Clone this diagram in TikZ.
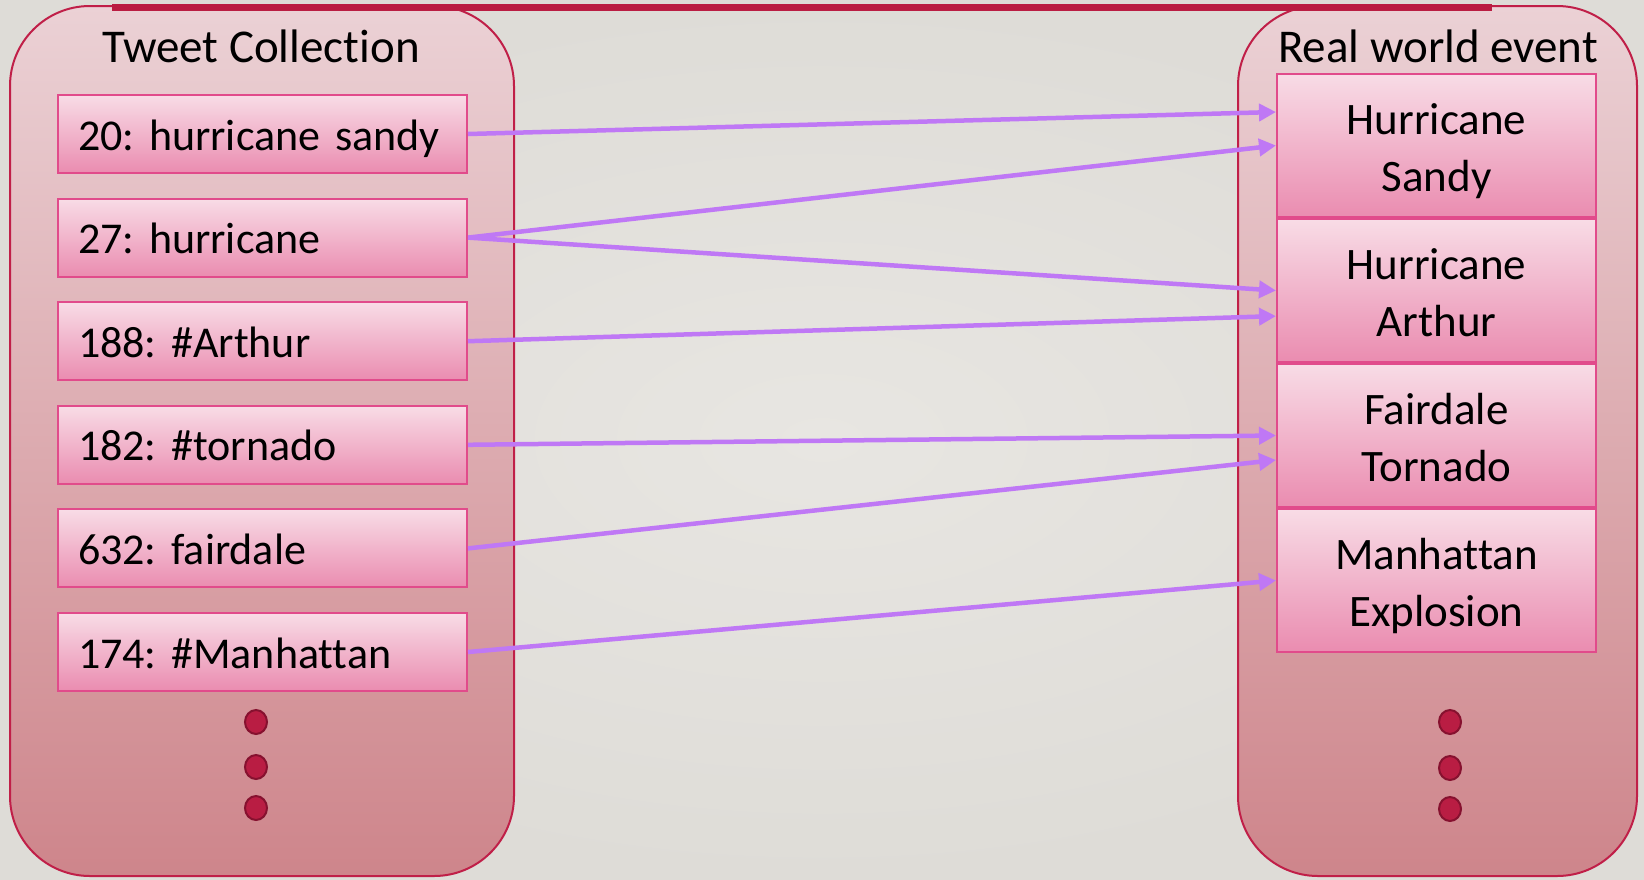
\documentclass[tikz,border=0pt]{standalone}
\usepackage{fontspec}
\setmainfont[Ligatures=NoCommon]{Carlito}
\usetikzlibrary{positioning,shapes,arrows.meta}
\usepackage{xcolor}
\definecolor{bginner}{HTML}{E8E6E2}
\definecolor{bgouter}{HTML}{DEDCD7}
\definecolor{grouptop}{HTML}{EBD1D5}
\definecolor{groupbot}{HTML}{CE858B}
\definecolor{groupedge}{HTML}{C01F48}
\definecolor{boxtop}{HTML}{F8DCE6}
\definecolor{boxbot}{HTML}{EA8CB0}
\definecolor{boxedge}{HTML}{E14B8B}
\definecolor{linkcol}{HTML}{BF78F5}
\definecolor{dotfill}{HTML}{B91D43}
\definecolor{dotedge}{HTML}{86112F}
\definecolor{topbar}{HTML}{BA1D42}
\frenchspacing

\begin{document}
\begin{tikzpicture}[x=1pt,y=-1pt,node distance=103.6pt]
		% 定义各类形状
		\tikzstyle{group} = [rectangle, rounded corners=80pt, line width=2pt, draw=groupedge, top color=grouptop, bottom color=groupbot, minimum height=870pt]	% 外框
		\tikzstyle{title} = [anchor=base, font=\fontsize{47}{57}\selectfont]	% 标题
		\tikzstyle{tweet} = [rectangle, line width=2pt, draw=boxedge, top color=boxtop, bottom color=boxbot, minimum width=409pt, minimum height=78pt, inner xsep=20pt, inner ysep=5pt, text width=369pt, align=left, text height=40pt, text depth=8pt, font={\fontsize{44}{57}\selectfont\spaceskip=0.17em\relax}, execute at begin node=\hbox\bgroup, execute at end node=\egroup]	% 推文框
		\tikzstyle{event} = [rectangle, line width=2pt, draw=boxedge, top color=boxtop, bottom color=boxbot, minimum width=319pt, minimum height=143pt, inner xsep=10pt, inner ysep=5pt, text width=299pt, align=center, text height=46pt, text depth=69pt, font=\fontsize{45}{57}\selectfont]	% 事件框
		\tikzstyle{dot} = [ellipse, line width=2pt, draw=dotedge, fill=dotfill, minimum width=22pt, minimum height=24pt, inner sep=0pt]	% 省略点
		\tikzstyle{arrow} = [line width=4.5pt, draw=linkcol, -{Triangle[length=17pt,width=17pt]}]	% 定义箭头

		% 背景
		\useasboundingbox (0,0) rectangle (1644,879);
		\shade [inner color=bginner, outer color=bgouter] (0,0) rectangle (1644,879);

		\node (tweets) [group, minimum width=504pt] at (262,441) {};
		\node (events) [group, minimum width=399pt] at (1437.5,441) {};
		\draw [line width=7pt, topbar] (112,7) -- (1492,7);

		\node (ttl1) [title] at (261,62) {Tweet Collection};
		\node (ttl2) [title] at (1438,62) {Real world event};

		\node (t1) [tweet] at (262.5,134) {20: hurricane sandy};
		\node (t2) [tweet, below of=t1] {27: hurricane};
		\node (t3) [tweet, below of=t2] {188: \#Arthur};
		\node (t4) [tweet, below of=t3] {182: \#tornado};
		\node (t5) [tweet, below of=t4] {632: fairdale};
		\node (t6) [tweet, below of=t5] {174: \#Manhattan};

		\node (e1) [event] at (1436.5,145.5) {Hurricane\\Sandy};
		\node (e2) [event, below of=e1, yshift=-41.4pt] {Hurricane\\Arthur};
		\node (e3) [event, below of=e2, yshift=-41.4pt] {Fairdale\\Tornado};
		\node (e4) [event, below of=e3, yshift=-41.4pt] {Manhattan\\Explosion};

		\node (ld1) [dot] at (256,722) {};
		\node (ld2) [dot] at (256,767) {};
		\node (ld3) [dot] at (256,808) {};
		\node (rd1) [dot] at (1450,722) {};
		\node (rd2) [dot] at (1450,768) {};
		\node (rd3) [dot] at (1450,809) {};

		% 连接推文与事件
		\draw [arrow](t1.east) -- ([yshift=33.5pt]e1.west);
		\draw [arrow](t2.east) -- (e1.west);
		\draw [arrow](t2.east) -- (e2.west);
		\draw [arrow](t3.east) -- ([yshift=-25.6pt]e2.west);
		\draw [arrow](t4.east) -- (e3.west);
		\draw [arrow](t5.east) -- ([yshift=-24.5pt]e3.west);
		\draw [arrow](t6.east) -- (e4.west);
	\end{tikzpicture}
\end{document}
